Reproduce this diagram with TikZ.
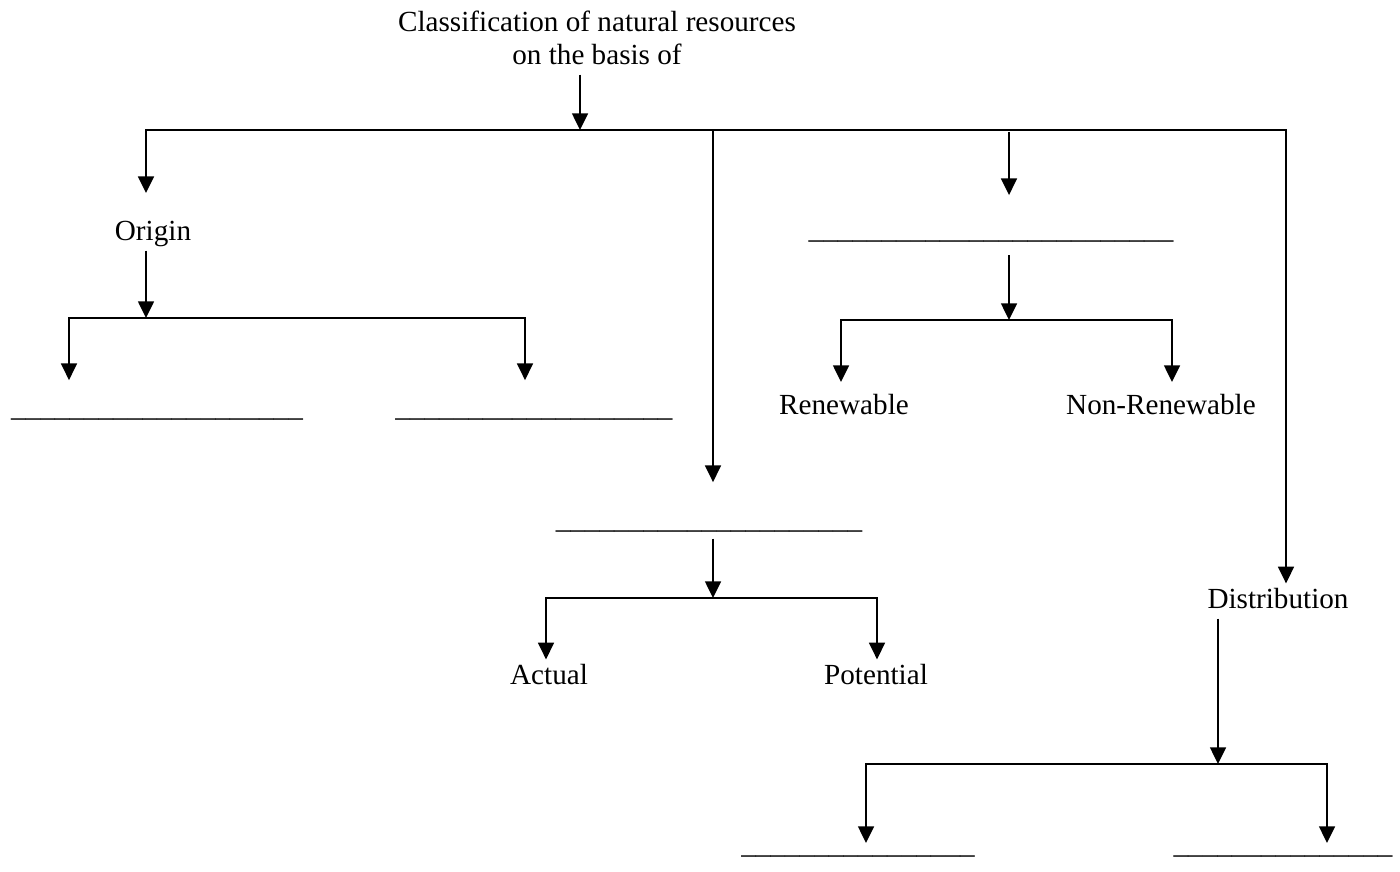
\documentclass[tikz,border=0pt]{standalone}
\usepackage{fontspec}
\setmainfont{Liberation Serif}
\usetikzlibrary{arrows.meta,calc}
\tikzset{
  lbl/.style={anchor=base, inner sep=0pt, outer sep=0pt, font=\fontsize{16.6}{20}\selectfont},
  bus/.style={line width=1.25pt, line cap=rect},
  arr/.style={line width=1.25pt, -{Triangle[width=9pt,length=9.5pt]}},
}
\newcommand{\blankline}[1]{\strut\foreach \i in {1,...,#1}{\_}}
\begin{document}
\begin{tikzpicture}[x=0.569pt, y=-0.569pt]
\useasboundingbox (0,0) rectangle (1400,871);
% text nodes
\node[lbl] (t1) at (597,31) {\strut Classification of natural resources};
\node[lbl] (t2) at (597,64) {\strut on the basis of};
\node[lbl] (origin) at (153,240) {\strut Origin};
\node[lbl] (bl1) at (157,416) {\blankline{20}};
\node[lbl] (bl2) at (534,416) {\blankline{19}};
\node[lbl] (bmid) at (709,528) {\blankline{21}};
\node[lbl] (actual) at (549,684) {\strut Actual};
\node[lbl] (potential) at (876,684) {\strut Potential};
\node[lbl] (bright) at (991,238) {\blankline{25}};
\node[lbl] (renew) at (844,414) {\strut Renewable};
\node[lbl] (nonrenew) at (1161,414) {\strut Non-Renewable};
\node[lbl] (distr) at (1278,608) {\strut Distribution};
\node[lbl] (bb1) at (858,853) {\blankline{16}};
\node[lbl] (bb2) at (1283,853) {\blankline{15}};
% junctions
\coordinate (b1) at (146,130);
\coordinate (j0) at (580,130);
\coordinate (bm) at (713,130);
\coordinate (br) at (1009,130);
\coordinate (b4) at (1286,130);
\coordinate (oj) at (146,318);
\coordinate (ol) at (69,318);
\coordinate (or) at (525,318);
\coordinate (mj) at (713,598);
\coordinate (ml) at (546,598);
\coordinate (mr) at (877,598);
\coordinate (rj) at (1009,320);
\coordinate (rl) at (841,320);
\coordinate (rr) at (1172,320);
\coordinate (dj) at (1218,764);
\coordinate (dl) at (866,764);
\coordinate (dr) at (1327,764);
% top
\draw[arr] (t2.south -| j0) -- (j0);
\draw[bus] (b1) -- (b4);
\draw[arr, shorten >=12.7pt] (b1) -- (b1 |- origin.north);
\draw[arr, shorten >=12.1pt] (bm) -- (bm |- bmid.north);
\draw[arr, shorten >=10.4pt, shorten <=1pt] (br) -- (br |- bright.north);
\draw[arr] (b4) -- (b4 |- distr.north);
% origin
\draw[arr] (origin.south -| oj) -- (oj);
\draw[bus] (ol) -- (or);
\draw[arr, shorten >=6.4pt] (ol) -- (ol |- bl1.north);
\draw[arr, shorten >=6.4pt] (or) -- (or |- bl2.north);
% middle
\draw[arr] (bmid.south -| mj) -- (mj);
\draw[bus] (ml) -- (mr);
\draw[arr] (ml) -- (ml |- actual.north);
\draw[arr] (mr) -- (mr |- potential.north);
% right middle
\draw[arr, shorten <=3.7pt] (bright.south -| rj) -- (rj);
\draw[bus] (rl) -- (rr);
\draw[arr, shorten >=4.2pt] (rl) -- (rl |- renew.north);
\draw[arr, shorten >=4.2pt] (rr) -- (rr |- nonrenew.north);
% distribution
\draw[arr] (distr.south -| dj) -- (dj);
\draw[bus] (dl) -- (dr);
\draw[arr, shorten >=5.7pt] (dl) -- (dl |- bb1.base);
\draw[arr, shorten >=5.7pt] (dr) -- (dr |- bb2.base);
\end{tikzpicture}
\end{document}
